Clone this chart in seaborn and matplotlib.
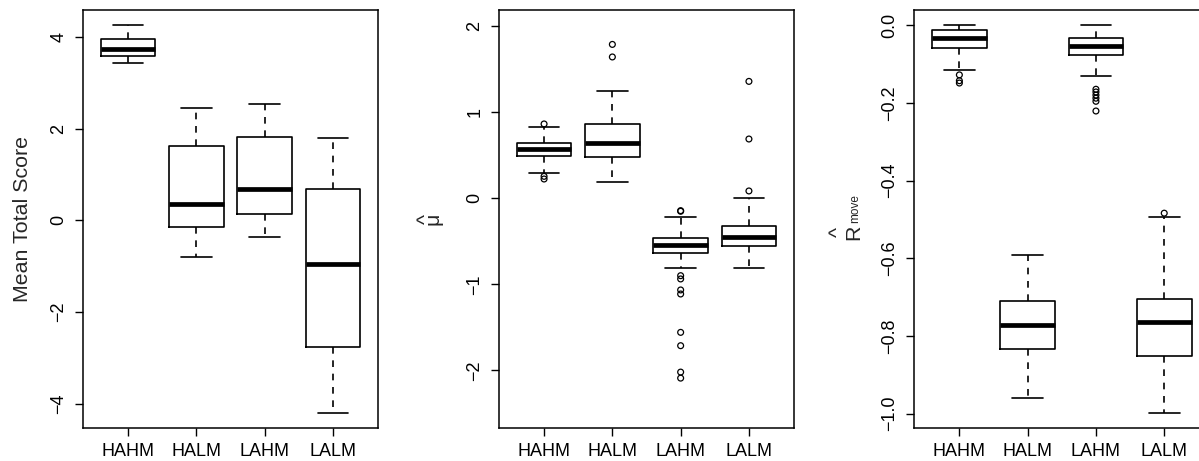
import matplotlib
matplotlib.use("Agg")
import matplotlib.pyplot as plt
import pandas as pd
import seaborn as sns

groups = ["HAHM", "HALM", "LAHM", "LALM"]

# Mean total score: lower whisker, Q1, median, Q3, upper whisker per group
score_lo = [3.42, -0.80, -0.36, -4.20]
score_q1 = [3.58, -0.15, 0.14, -2.76]
score_med = [3.73, 0.355, 0.675, -0.96]
score_q3 = [3.95, 1.63, 1.82, 0.675]
score_hi = [4.25, 2.44, 2.53, 1.79]
score_out = [[], [], [], []]

# Estimated mu
mu_lo = [0.30, 0.194, -0.814, -0.814]
mu_q1 = [0.497, 0.48, -0.63, -0.554]
mu_med = [0.57, 0.64, -0.538, -0.445]
mu_q3 = [0.64, 0.86, -0.457, -0.325]
mu_hi = [0.834, 1.244, -0.22, 0.008]
mu_out = [
    [0.865, 0.256, 0.225],
    [1.79, 1.644],
    [-0.143, -0.15, -0.899, -0.937, -1.065, -1.112, -1.558, -1.713, -2.02, -2.09],
    [1.36, 0.69, 0.086],
]

# Estimated R_move
r_lo = [-0.116, -0.961, -0.1305, -0.998]
r_q1 = [-0.059, -0.833, -0.0765, -0.851]
r_med = [-0.032, -0.771, -0.053, -0.764]
r_q3 = [-0.0137, -0.711, -0.033, -0.705]
r_hi = [0.0, -0.591, 0.0, -0.493]
r_out = [
    [-0.128, -0.143, -0.149],
    [],
    [-0.165, -0.172, -0.180, -0.188, -0.196, -0.221],
    [-0.484],
]

sns.set_style("ticks")
plt.rcParams.update({
    "font.family": ["Liberation Sans", "DejaVu Sans"],
    "axes.edgecolor": "black",
    "axes.linewidth": 1.1,
    "xtick.color": "black",
    "ytick.color": "black",
    "xtick.major.size": 5.8,
    "ytick.major.size": 5.8,
    "xtick.major.width": 1.0,
    "ytick.major.width": 1.0,
    "xtick.major.pad": 5,
    "ytick.major.pad": 5.5,
    "xtick.labelsize": 13,
    "ytick.labelsize": 13,
})


def summary_frame(lo, q1, med, q3, hi):
    rows = []
    for g, vals in zip(groups, zip(lo, q1, med, q3, hi)):
        for v in vals:
            rows.append({"group": g, "value": v})
    return pd.DataFrame(rows)


def outlier_frame(outs):
    rows = [{"group": g, "value": v} for g, vs in zip(groups, outs) for v in vs]
    return pd.DataFrame(rows, columns=["group", "value"])


fig = plt.figure(figsize=(11.99, 4.61), dpi=100)
W, H = 1199, 461
ax_w = 295 / W
ax_h = (428 - 10) / H
ax_bottom = 1 - 428 / H


def vlabel(x, y, s, size=15.4, linespacing=1.2, va="baseline"):
    """Vertical axis-title text anchored at pixel position (x, y)."""
    fig.text(x / W, 1 - y / H, s, rotation=90, rotation_mode="anchor",
             ha="center", va=va, fontsize=size, linespacing=linespacing)


panels = [
    (83, (score_lo, score_q1, score_med, score_q3, score_hi), score_out,
     (-4.52, 4.58), [-4, -2, 0, 2, 4], "{:g}"),
    (499, (mu_lo, mu_q1, mu_med, mu_q3, mu_hi), mu_out,
     (-2.67, 2.19), [-2, -1, 0, 1, 2], "{:g}"),
    (914.3, (r_lo, r_q1, r_med, r_q3, r_hi), r_out,
     (-1.037, 0.039), [-1.0, -0.8, -0.6, -0.4, -0.2, 0.0], "{:.1f}"),
]

for left, stats, outs, ylim, yticks, fmt in panels:
    ax = fig.add_axes([left / W, ax_bottom, ax_w, ax_h])
    sns.boxplot(
        data=summary_frame(*stats), x="group", y="value", order=groups,
        whis=(0, 100), showfliers=False, fill=False, color="black",
        width=0.8, linewidth=1.2, capwidths=0.45,
        whiskerprops=dict(linestyle=(0, (4, 4))),
        medianprops=dict(linewidth=3.4, solid_capstyle="butt"),
        ax=ax,
    )
    odf = outlier_frame(outs)
    if len(odf):
        sns.stripplot(
            data=odf, x="group", y="value", order=groups, jitter=False,
            color="black", facecolors="none", edgecolor="black",
            linewidth=0.9, size=4.2, ax=ax,
        )
    ax.set_xlim(-0.66, 3.66)
    ax.set_ylim(*ylim)
    ax.set_yticks(yticks)
    ax.set_yticklabels([fmt.format(t).replace("-", "\u2212") for t in yticks])
    ax.tick_params(axis="y", labelrotation=90)
    for lab in ax.get_yticklabels():
        lab.set_va("center")
    ax.set_xlabel("")
    ax.set_ylabel("")
    for sp in ax.spines.values():
        sp.set_visible(True)
        sp.set_color("black")
        sp.set_linewidth(1.1)

# axis titles
vlabel(28.3, 219, "Mean Total Score")
# mu with a hat (hat line sits to the left once rotated)
vlabel(416.7, 219, "^\n\u03bc", linespacing=0.157, va="top")
# R with a hat, then subscript "move"
vlabel(828.7, 232, "^\nR", linespacing=0.758, va="top")
vlabel(858, 209, "move", size=8.5)

fig.savefig("out.png", dpi=100)
